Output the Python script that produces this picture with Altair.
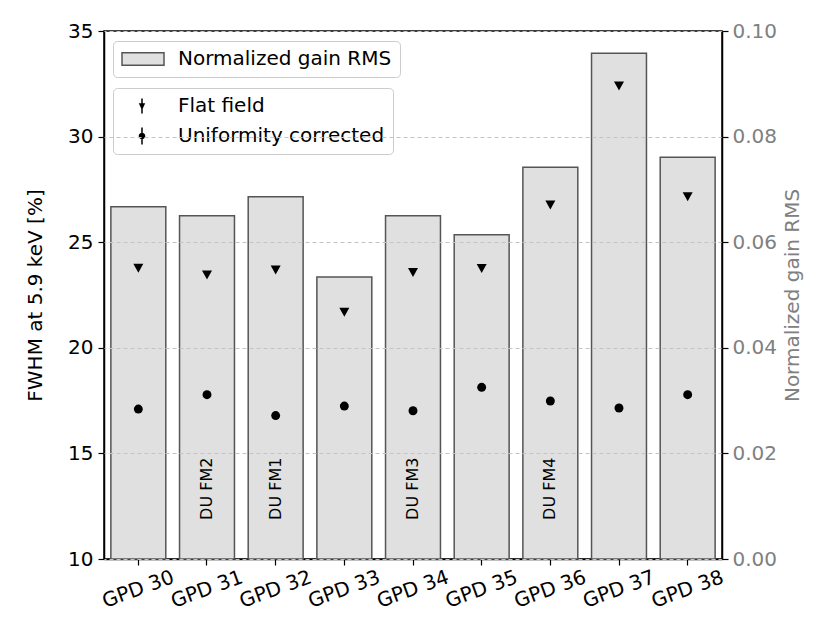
import altair as alt
import pandas as pd

gpd = ["GPD 30", "GPD 31", "GPD 32", "GPD 33", "GPD 34", "GPD 35", "GPD 36", "GPD 37", "GPD 38"]
gain_rms = [0.0667, 0.0650, 0.0686, 0.0534, 0.0650, 0.0614, 0.0742, 0.0958, 0.0761]
fwhm_flat = [23.77, 23.45, 23.68, 21.68, 23.56, 23.75, 26.76, 32.40, 27.15]
fwhm_unif = [17.10, 17.78, 16.79, 17.24, 17.02, 18.13, 17.48, 17.15, 17.78]
du_gpd = ["GPD 31", "GPD 32", "GPD 34", "GPD 36"]
du_names = ["DU FM2", "DU FM1", "DU FM3", "DU FM4"]
bar_series = ["Normalized gain RMS"]
point_series = ["Flat field", "Uniformity corrected"]
left_ticks = [10, 15, 20, 25, 30, 35]
right_ticks = [0.0, 0.02, 0.04, 0.06, 0.08, 0.10]

FONT = "DejaVu Sans"

df = pd.DataFrame({"gpd": gpd, "rms": gain_rms, "ff": fwhm_flat, "uc": fwhm_unif,
                   "series": bar_series[0]})
du = pd.DataFrame({"gpd": du_gpd, "label": du_names})
leg = pd.DataFrame({"series": point_series})

x_enc = alt.X("gpd:N", sort=gpd,
              scale=alt.Scale(paddingInner=0.2, paddingOuter=0.1),
              axis=alt.Axis(title=None, labelAngle=340, labelAlign="center",
                            labelBaseline="middle", labelPadding=24))

left_scale = alt.Scale(domain=[10, 35], nice=False)
left_axis = alt.Axis(orient="left", values=left_ticks, title="FWHM at 5.9 keV [%]",
                     grid=False, labelPadding=5, titlePadding=22)

# legend swatch shapes (symbol size 144 -> unit = 6 px)
bar_swatch = "M-1.5,-1.05H5.5V1.05H-1.5Z"
tri_leg = ("M1.30,-0.45L2.366,-0.45L1.833,0.70Z "
           "M1.708,-1.25H1.958V1.25H1.708Z")
circ_leg = ("M1.283,0A0.55,0.55,0,1,1,2.383,0A0.55,0.55,0,1,1,1.283,0Z "
            "M1.708,-1.4H1.958V1.4H1.708Z")

bars = alt.Chart(df).mark_bar(stroke="#555555", strokeWidth=1.5).encode(
    x=x_enc,
    y=alt.Y("rms:Q", scale=alt.Scale(domain=[0, 0.1], nice=False),
            axis=alt.Axis(orient="right", values=right_ticks, format=".2f",
                          title="Normalized gain RMS", labelColor="#808080",
                          titleColor="#808080", grid=True, gridDash=[4, 3],
                          gridColor="#c4c4c4", gridWidth=1, zindex=1,
                          titleAngle=270, titleBaseline="top", titlePadding=6,
                          labelPadding=4)),
    color=alt.Color("series:N",
                    scale=alt.Scale(domain=bar_series, range=["#e0e0e0"]),
                    legend=alt.Legend(orient="none", legendX=9, legendY=10, title=None,
                                      symbolType=bar_swatch, symbolSize=144,
                                      symbolStrokeColor="#555555", symbolStrokeWidth=1.5,
                                      symbolOpacity=1, labelOffset=37)),
)

ff_pts = alt.Chart(df).mark_point(filled=True, color="black", opacity=1,
                                  shape="M-1,-0.9L1,-0.9L0,0.9Z", size=100).encode(
    x=x_enc,
    y=alt.Y("ff:Q", scale=left_scale, axis=left_axis),
)

uc_pts = alt.Chart(df).mark_point(filled=True, color="black", opacity=1,
                                  shape="circle", size=80).encode(
    x=x_enc,
    y=alt.Y("uc:Q", scale=left_scale, axis=left_axis),
)

du_text = alt.Chart(du).mark_text(angle=270, align="left", baseline="middle",
                                  font=FONT, fontSize=16, color="black").encode(
    x=x_enc,
    y=alt.YDatum(11.85, type="quantitative", scale=left_scale, axis=left_axis),
    text="label:N",
)

leg_layer = alt.Chart(leg).mark_point(filled=True, color="black", opacity=1).encode(
    x=alt.value(0),
    y=alt.value(0),
    shape=alt.Shape("series:N",
                    scale=alt.Scale(domain=point_series, range=[tri_leg, circ_leg]),
                    legend=alt.Legend(orient="none", legendX=9, legendY=57, title=None,
                                      symbolSize=144, symbolFillColor="black",
                                      symbolStrokeColor="black", symbolStrokeWidth=0,
                                      symbolOpacity=1, labelOffset=37, rowPadding=10)),
).transform_filter("false")

inner = alt.layer(ff_pts, uc_pts, du_text, leg_layer)

chart = alt.layer(bars, inner).resolve_scale(y="independent").properties(
    width=618, height=528,
    autosize=alt.AutoSizeParams(type="none"),
    padding={"left": 96, "top": 23, "right": 96, "bottom": 54},
).configure_view(
    stroke="black", strokeWidth=1.5
).configure_axis(
    labelFont=FONT, titleFont=FONT, labelFontSize=20, titleFontSize=20,
    titleFontWeight="normal", domainColor="black", domainWidth=1.5,
    tickColor="black", tickSize=6, tickWidth=1.2, labelColor="black",
    titleColor="black",
).configure_legend(
    labelFont=FONT, labelFontSize=20, labelColor="black", strokeColor="#cccccc",
    cornerRadius=4, fillColor="rgba(255,255,255,0.8)", padding=8,
    labelLimit=0,
)

chart.save("out.html", embed_options={"renderer": "svg", "actions": False})
